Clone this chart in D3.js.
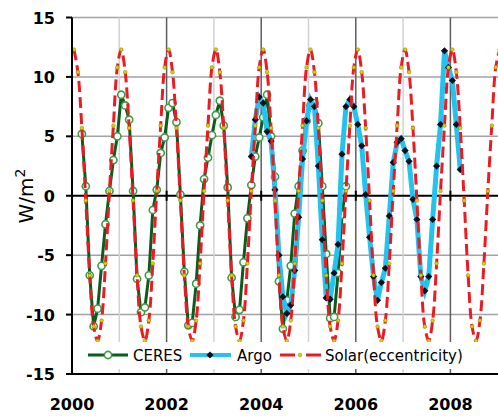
<!DOCTYPE html>
<html>
<head>
<meta charset="utf-8">
<script src="https://cdn.jsdelivr.net/npm/d3@7"></script>
<style>
  body { margin: 0; background: #fff; }
  svg { display: block; }
</style>
</head>
<body>
<div id="chart"></div>
<script>
// Monthly anomalies in W/m2
const ceresStart = { year: 2000, month: 2 };   // March 2000
const ceres = [
  5.2, 0.8, -6.7, -11.0, -9.5, -5.9, -2.4, 0.4, 3.0, 5.0,
  8.5, 7.6, 6.4, 0.4, -7.0, -9.8, -9.4, -6.7, -1.2, 0.5, 3.6, 4.9,
  7.4, 7.8, 6.2, 0.1, -6.4, -10.9, -10.7, -7.4, -2.5, 1.4, 3.2, 5.1,
  6.8, 8.0, 5.9, 0.7, -6.9, -10.2, -9.6, -5.6, -1.9, 0.9, 3.3, 4.9,
  6.6, 8.5, 5.0, 1.6, -7.2, -11.2, -8.8, -5.9, -1.5, 0.8, 3.8, 6.3,
  7.6, 7.8, 6.1, 0.8, -4.9, -10.3, -10.2, -6.5, -1.6, 0.8
];

const argoStart = { year: 2003, month: 9 };    // October 2003
const argo = [
  3.3, 6.4, 8.3,
  7.8, 5.4, 4.6, 0.5, -5.0, -8.5, -9.9, -9.2, -6.3, -1.8, 3.1, 6.3,
  8.1, 7.5, 2.5, -3.7, -8.6, -8.7, -6.5, -4.1, 3.5, 7.5, 8.1, 7.5,
  6.0, 4.2, 0.1, -3.5, -6.8, -8.8, -7.3, -6.1, -1.7, 2.8, 4.5, 4.8,
  3.8, 2.9, -0.3, -2.0, -6.8, -8.0, -6.8, -2.0, 2.5, 6.0, 12.2, 10.8,
  9.7, 6.0, 2.2
];

const solarStart = { year: 2000, month: 0 };   // January 2000
const solar = [
  12.3, 10.4, 5.7, -0.4, -6.7, -11.0, -12.2, -10.5, -5.7, 0.4, 5.9, 10.8,
  12.3, 10.4, 5.7, -0.4, -6.7, -11.0, -12.2, -10.5, -5.7, 0.4, 5.9, 10.8,
  12.3, 10.4, 5.7, -0.4, -6.7, -11.0, -12.2, -10.5, -5.7, 0.4, 5.9, 10.8,
  12.3, 10.4, 5.7, -0.4, -6.7, -11.0, -12.2, -10.5, -5.7, 0.4, 5.9, 10.8,
  12.3, 10.4, 5.7, -0.4, -6.7, -11.0, -12.2, -10.5, -5.7, 0.4, 5.9, 10.8,
  12.3, 10.4, 5.7, -0.4, -6.7, -11.0, -12.2, -10.5, -5.7, 0.4, 5.9, 10.8,
  12.3, 10.4, 5.7, -0.4, -6.7, -11.0, -12.2, -10.5, -5.7, 0.4, 5.9, 10.8,
  12.3, 10.4, 5.7, -0.4, -6.7, -11.0, -12.2, -10.5, -5.7, 0.4, 5.9, 10.8,
  12.3, 10.4, 5.7, -0.4, -6.7, -11.0, -12.2, -10.5, -5.7, 0.4, 5.9, 10.8,
  12.3
];

const yTicks = [-15, -10, -5, 0, 5, 10, 15];
const xLabels = [2000, 2002, 2004, 2006, 2008];
const gridYears = [2001, 2002, 2003, 2004, 2005, 2006, 2007, 2008];
const legendNames = ["CERES", "Argo", "Solar(eccentricity)"];

// month index -> decimal year (mid-month)
const toPoints = (start, vals) => vals.map((v, i) => ({
  t: start.year + (start.month + i + 0.5) / 12,
  v: v
}));

const W = 498, H = 416;
const margin = { top: 17.5, left: 72 };
const height = 356.5;

const svg = d3.select("#chart")
  .append("svg")
    .attr("width", W)
    .attr("height", H)
    .style("font-family", "'DejaVu Sans', Verdana, sans-serif");

const x = d3.scaleLinear()
  .domain([2000, 2009])
  .range([margin.left, margin.left + 425.7]);
const y = d3.scaleLinear()
  .domain([-15, 15])
  .range([margin.top + height, margin.top]);

// gridlines
svg.append("g")
  .selectAll("line")
  .data(yTicks.filter(d => d !== 0 && d !== -15))
  .join("line")
    .attr("x1", x(2000)).attr("x2", W)
    .attr("y1", d => y(d)).attr("y2", d => y(d))
    .attr("stroke", "#a3a3a3")
    .attr("stroke-width", 1.5);

svg.append("g")
  .selectAll("line")
  .data(gridYears)
  .join("line")
    .attr("x1", d => x(d)).attr("x2", d => x(d))
    .attr("y1", y(15)).attr("y2", y(-15))
    .attr("stroke", d => d % 2 === 0 ? "#5e5e5e" : "#d2d2d2")
    .attr("stroke-width", 1.5);

// zero line with crossing ticks
svg.append("line")
  .attr("x1", x(2000)).attr("x2", W)
  .attr("y1", y(0)).attr("y2", y(0))
  .attr("stroke", "#000")
  .attr("stroke-width", 2);
svg.append("g")
  .selectAll("line")
  .data(xLabels.slice(1))
  .join("line")
    .attr("x1", d => x(d)).attr("x2", d => x(d))
    .attr("y1", y(0) - 5).attr("y2", y(0) + 5)
    .attr("stroke", "#000")
    .attr("stroke-width", 2);

// series
const ceresPts = toPoints(ceresStart, ceres);
const argoPts = toPoints(argoStart, argo);
const solarPts = toPoints(solarStart, solar);

const line = d3.line().x(d => x(d.t)).y(d => y(d.v));
const smooth = d3.line().x(d => x(d.t)).y(d => y(d.v)).curve(d3.curveCatmullRom);

const plot = svg.append("g");

plot.append("path")
  .datum(ceresPts)
  .attr("d", line)
  .attr("fill", "none")
  .attr("stroke", "#0c5c1e")
  .attr("stroke-width", 3);
plot.append("g")
  .selectAll("circle")
  .data(ceresPts)
  .join("circle")
    .attr("cx", d => x(d.t))
    .attr("cy", d => y(d.v))
    .attr("r", 3.6)
    .attr("fill", "#fff")
    .attr("stroke", "#3f9a45")
    .attr("stroke-width", 1.6);

plot.append("path")
  .datum(argoPts)
  .attr("d", line)
  .attr("fill", "none")
  .attr("stroke", "#22c3ef")
  .attr("stroke-width", 5);
const diamond = d3.symbol(d3.symbolSquare, 26);
plot.append("g")
  .selectAll("path")
  .data(argoPts)
  .join("path")
    .attr("d", diamond)
    .attr("transform", d => `translate(${x(d.t)},${y(d.v)}) rotate(45)`)
    .attr("fill", "#0a0f1e");

plot.append("path")
  .datum(solarPts)
  .attr("d", smooth)
  .attr("fill", "none")
  .attr("stroke", "#ec1b23")
  .attr("stroke-width", 3)
  .attr("stroke-dasharray", "11,5");
plot.append("g")
  .selectAll("circle")
  .data(solarPts)
  .join("circle")
    .attr("cx", d => x(d.t))
    .attr("cy", d => y(d.v))
    .attr("r", 1.8)
    .attr("fill", "#d8d200")
    .attr("stroke", "#9a8a10")
    .attr("stroke-width", 0.6);

// legend
const lg = svg.append("g");
lg.append("rect")
  .attr("x", 82).attr("y", 342)
  .attr("width", 412).attr("height", 27)
  .attr("fill", "#fff");

const ly = 355;
// CERES
lg.append("line").attr("x1", 88).attr("x2", 128).attr("y1", ly).attr("y2", ly)
  .attr("stroke", "#0c5c1e").attr("stroke-width", 3);
lg.append("circle").attr("cx", 108).attr("cy", ly).attr("r", 3.6)
  .attr("fill", "#fff").attr("stroke", "#3f9a45").attr("stroke-width", 1.6);
lg.append("text").attr("x", 133).attr("y", ly + 5.5).attr("font-size", 15)
  .text(legendNames[0]);
// Argo
lg.append("line").attr("x1", 190).attr("x2", 231).attr("y1", ly).attr("y2", ly)
  .attr("stroke", "#22c3ef").attr("stroke-width", 4);
lg.append("path").attr("d", diamond)
  .attr("transform", `translate(210,${ly}) rotate(45)`)
  .attr("fill", "#0a0f1e");
lg.append("text").attr("x", 237).attr("y", ly + 5.5).attr("font-size", 15)
  .text(legendNames[1]);
// Solar
lg.append("line").attr("x1", 280).attr("x2", 321).attr("y1", ly).attr("y2", ly)
  .attr("stroke", "#ec1b23").attr("stroke-width", 3)
  .attr("stroke-dasharray", "15,11");
lg.append("circle").attr("cx", 300).attr("cy", ly).attr("r", 1.8)
  .attr("fill", "#d8d200").attr("stroke", "#9a8a10").attr("stroke-width", 0.6);
lg.append("text").attr("x", 325).attr("y", ly + 5.5).attr("font-size", 15)
  .text(legendNames[2]);

// axes
svg.append("line")
  .attr("x1", x(2000)).attr("x2", x(2000))
  .attr("y1", y(15)).attr("y2", y(-15))
  .attr("stroke", "#000").attr("stroke-width", 2);
svg.append("line")
  .attr("x1", x(2000) - 1).attr("x2", W)
  .attr("y1", y(-15)).attr("y2", y(-15))
  .attr("stroke", "#000").attr("stroke-width", 2);

svg.append("g")
  .selectAll("line")
  .data(yTicks)
  .join("line")
    .attr("x1", x(2000) - 6).attr("x2", x(2000))
    .attr("y1", d => y(d)).attr("y2", d => y(d))
    .attr("stroke", "#000").attr("stroke-width", 2);

svg.append("g")
  .selectAll("text")
  .data(yTicks)
  .join("text")
    .attr("x", 55)
    .attr("y", d => y(d) + 6)
    .attr("text-anchor", "end")
    .attr("font-size", 16)
    .attr("font-weight", "bold")
    .text(d => d);

svg.append("g")
  .selectAll("text")
  .data(xLabels)
  .join("text")
    .attr("x", d => x(d))
    .attr("y", 410)
    .attr("text-anchor", "middle")
    .attr("font-size", 16)
    .attr("font-weight", "bold")
    .text(d => d);

// y label
const yl = svg.append("text")
  .attr("transform", "translate(33,196) rotate(-90)")
  .attr("text-anchor", "middle")
  .attr("font-size", 20);
yl.append("tspan").text("W/m");
yl.append("tspan").attr("font-size", 14).attr("dy", -8).text("2");
</script>
</body>
</html>
